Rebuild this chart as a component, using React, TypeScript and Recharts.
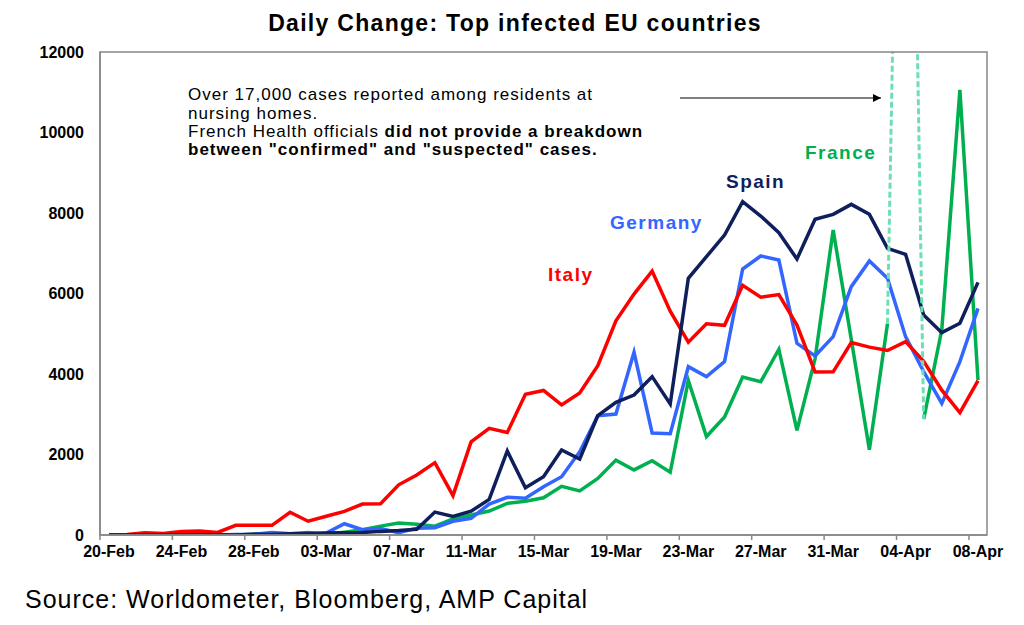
import React from 'react';
import { LineChart, Line, XAxis, YAxis } from 'recharts';

const dates = [
  '20-Feb', '21-Feb', '22-Feb', '23-Feb', '24-Feb', '25-Feb', '26-Feb', '27-Feb', '28-Feb', '29-Feb',
  '01-Mar', '02-Mar', '03-Mar', '04-Mar', '05-Mar', '06-Mar', '07-Mar', '08-Mar', '09-Mar', '10-Mar',
  '11-Mar', '12-Mar', '13-Mar', '14-Mar', '15-Mar', '16-Mar', '17-Mar', '18-Mar', '19-Mar', '20-Mar',
  '21-Mar', '22-Mar', '23-Mar', '24-Mar', '25-Mar', '26-Mar', '27-Mar', '28-Mar', '29-Mar', '30-Mar',
  '31-Mar', '01-Apr', '02-Apr', '03-Apr', '04-Apr', '05-Apr', '06-Apr', '07-Apr', '08-Apr',
];

const italy = [
  0, 15, 57, 35, 85, 100, 65, 240, 240, 240,
  566, 342, 466, 587, 769, 778, 1247, 1492, 1797, 977,
  2313, 2651, 2547, 3497, 3590, 3233, 3526, 4207, 5322, 5986,
  6557, 5560, 4789, 5249, 5210, 6203, 5909, 5974, 5217, 4050,
  4053, 4782, 4668, 4585, 4805, 4316, 3599, 3039, 3836,
];

const spain = [
  0, 0, 0, 0, 0, 4, 7, 2, 17, 13,
  30, 40, 50, 55, 60, 90, 110, 140, 570, 460,
  590, 886, 2087, 1176, 1449, 2112, 1888, 2965, 3296, 3478,
  3934, 3255, 6377, 6915, 7453, 8281, 7925, 7511, 6857, 7843,
  7967, 8215, 7967, 7122, 6973, 5466, 5027, 5259, 6277,
];

const germany = [
  0, 0, 0, 0, 0, 0, 0, 10, 20, 60,
  30, 20, 50, 280, 130, 160, 60, 170, 180, 340,
  414, 770, 936, 911, 1201, 1449, 2070, 2965, 3006, 4538,
  2534, 2518, 4182, 3934, 4307, 6609, 6932, 6832, 4762, 4447,
  4928, 6170, 6807, 6377, 4928, 4058, 3271, 4307, 5631,
];

// 04-Apr is left out of the solid line; it is drawn dashed and runs off the scale
const france = [
  0, 0, 0, 0, 0, 0, 0, 0, 20, 40,
  30, 60, 20, 70, 130, 220, 300, 270, 220, 400,
  497, 595, 785, 838, 924, 1210, 1097, 1404, 1861, 1617,
  1847, 1559, 3838, 2446, 2931, 3922, 3809, 4611, 2599, 4376,
  7578, 4861, 2116, 5250, null, 2880, 5100, 11060, 3850,
];
const franceApr4 = 29500;

const yTicks = [0, 2000, 4000, 6000, 8000, 10000, 12000];

const gapIndex = dates.indexOf('04-Apr');

const data = dates.map((date, i) => ({
  date,
  italy: italy[i],
  spain: spain[i],
  germany: germany[i],
  france: france[i],
  franceGap:
    i === gapIndex ? franceApr4 : i === gapIndex - 1 || i === gapIndex + 1 ? france[i] : null,
}));

const AXIS = '#878787';
const HALF_BAND = 9.05;
const FONT = '"Liberation Sans", Arial, sans-serif';

// plot box, matches the chart margins below
const PLOT = { left: 100, top: 52, right: 987, bottom: 535 };

function DateTick(props: any) {
  const { x, y, payload } = props;
  return (
    <g>
      <line x1={x - HALF_BAND} x2={x - HALF_BAND} y1={y} y2={y + 5} stroke={AXIS} strokeWidth={1.5} />
      <text x={x} y={y + 22} textAnchor="middle" fontSize={16} fontWeight="bold" fill="#000">
        {payload.value}
      </text>
    </g>
  );
}

export default function App() {
  return (
    <div style={{ position: 'absolute', left: 0, top: 0, width: 1024, height: 625, background: '#fff', fontFamily: FONT }}>
      <LineChart
        width={1024}
        height={625}
        data={data}
        margin={{ top: PLOT.top, right: 1024 - PLOT.right, bottom: 60, left: 40 }}
      >
        <XAxis
          dataKey="date"
          interval={3}
          padding={{ left: 9, right: 9 }}
          tickSize={0}
          tickMargin={0}
          tickLine={false}
          height={30}
          axisLine={{ stroke: AXIS, strokeWidth: 1.5 }}
          tick={<DateTick />}
        />
        <YAxis
          type="number"
          domain={[0, 12000]}
          ticks={yTicks}
          allowDataOverflow
          width={60}
          tickSize={0}
          tickMargin={16}
          tickLine={false}
          axisLine={{ stroke: AXIS, strokeWidth: 1.5 }}
          tick={{ fontSize: 16, fontWeight: 'bold', fill: '#000' }}
        />
        <Line dataKey="france" stroke="#00b050" strokeWidth={3.5} dot={false} isAnimationActive={false} />
        <Line dataKey="germany" stroke="#3366ff" strokeWidth={3.5} dot={false} isAnimationActive={false} />
        <Line dataKey="italy" stroke="#ff0000" strokeWidth={3.5} dot={false} isAnimationActive={false} />
        <Line dataKey="spain" stroke="#0f1f5c" strokeWidth={3.5} dot={false} isAnimationActive={false} />
        <Line
          dataKey="franceGap"
          stroke="#6ddfb2"
          strokeWidth={3}
          strokeDasharray="6 3"
          dot={false}
          isAnimationActive={false}
        />
      </LineChart>

      <svg
        width={1024}
        height={625}
        style={{ position: 'absolute', left: 0, top: 0, pointerEvents: 'none', fontFamily: FONT }}
      >
        <defs>
          <marker id="arrowHead" markerWidth="8" markerHeight="8" refX="8" refY="4" orient="auto" markerUnits="userSpaceOnUse">
            <path d="M0,0 L8,4 L0,8 z" fill="#000" />
          </marker>
        </defs>
        <rect
          x={PLOT.left}
          y={PLOT.top}
          width={PLOT.right - PLOT.left}
          height={PLOT.bottom - PLOT.top}
          fill="none"
          stroke={AXIS}
          strokeWidth={1.5}
        />
        <text x={515} y={31} textAnchor="middle" fontSize={23} fontWeight="bold" letterSpacing={1.3} fill="#000">
          Daily Change: Top infected EU countries
        </text>

        <g fontSize={17} letterSpacing={1} fill="#000">
          <text x={188} y={100}>Over 17,000 cases reported among residents at</text>
          <text x={188} y={118.5}>nursing homes.</text>
          <text x={188} y={137}>
            French Health officials <tspan fontWeight="bold">did not provide a breakdown</tspan>
          </text>
          <text x={188} y={155} fontWeight="bold">
            between "confirmed" and "suspected" cases.
          </text>
        </g>
        <line x1={680} y1={98} x2={881} y2={98} stroke="#000" strokeWidth={1} markerEnd="url(#arrowHead)" />

        <g fontSize={19} fontWeight="bold" letterSpacing={1.5}>
          <text x={548} y={281} fill="#ff0000">Italy</text>
          <text x={610} y={229} fill="#3366ff">Germany</text>
          <text x={726} y={188} fill="#0f1f5c">Spain</text>
          <text x={805} y={159} fill="#00b050">France</text>
        </g>

        <text x={25} y={608} fontSize={25} letterSpacing={1} fill="#000">
          Source: Worldometer, Bloomberg, AMP Capital
        </text>
      </svg>
    </div>
  );
}
